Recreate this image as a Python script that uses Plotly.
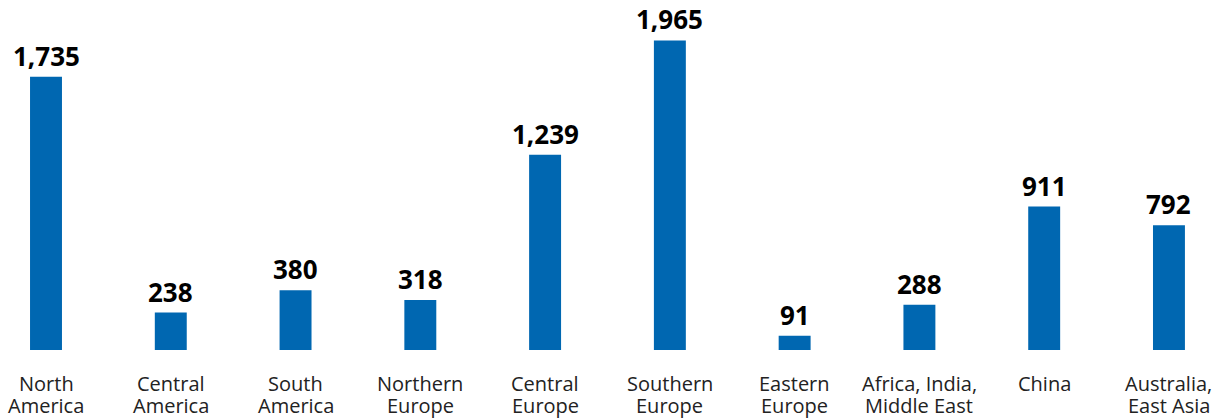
import plotly.graph_objects as go

regions = [
    "North<br>America", "Central<br>America", "South<br>America", "Northern<br>Europe",
    "Central<br>Europe", "Southern<br>Europe", "Eastern<br>Europe",
    "Africa, India,<br>Middle East", "China", "Australia,<br>East Asia",
]
values = [1735, 238, 380, 318, 1239, 1965, 91, 288, 911, 792]

_BAR_COLOR = "#0067B1"
_FONT = "Open Sans"

positions = list(range(len(regions)))

fig = go.Figure(
    go.Bar(
        x=positions,
        y=values,
        width=0.256,
        marker=dict(color=_BAR_COLOR, line_width=0),
        hoverinfo="skip",
    )
)

# value labels above bars
for xpos, v in zip(positions, values):
    fig.add_annotation(
        x=xpos, y=v, text=f"<b>{v:,}</b>", showarrow=False,
        yanchor="bottom", yshift=2, borderpad=0,
        font=dict(family=_FONT, size=26, color="#000000"),
    )

# category labels under the baseline, one annotation per line (tight leading)
for xpos, name in zip(positions, regions):
    for i, line in enumerate(name.split("<br>")):
        fig.add_annotation(
            x=xpos, y=0, text=line, showarrow=False,
            yanchor="middle", yshift=-33 - 22 * i, borderpad=0,
            font=dict(family=_FONT, size=20, color="#222222"),
        )

fig.update_layout(
    width=1215,
    height=419,
    margin=dict(l=0, r=0, t=0, b=69),
    plot_bgcolor="white",
    paper_bgcolor="white",
    showlegend=False,
    xaxis=dict(range=[-0.3687, 9.369], visible=False, fixedrange=True),
    yaxis=dict(range=[0, 2222], visible=False, fixedrange=True),
)

fig.write_html(
    "out.html",
    config={"displayModeBar": False},
    post_script="document.body.style.margin='0';document.body.style.overflow='hidden';",
)
